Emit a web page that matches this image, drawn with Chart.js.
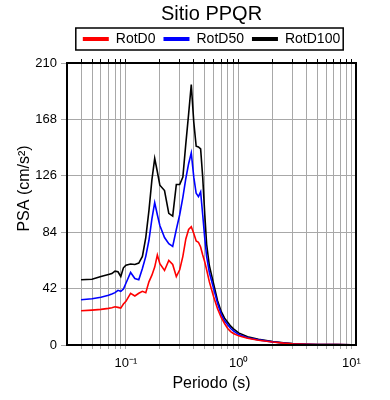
<!DOCTYPE html>
<html><head><meta charset="utf-8">
<script src="https://cdn.jsdelivr.net/npm/chart.js@4"></script>
<style>html,body{margin:0;padding:0;background:#fff}</style>
</head><body>
<canvas id="c" width="390" height="400"></canvas>
<script>
const periods = [0.04,0.05,0.06,0.07,0.075,0.08,0.085,0.09,0.095,0.1,
  0.11,0.12,0.13,0.14,0.15,0.16,0.17,0.18,0.19,0.2,
  0.22,0.24,0.26,0.28,0.3,0.32,0.34,0.36,0.38,0.4,
  0.42,0.44,0.46,0.48,0.5,0.52,0.55,0.6,0.65,0.7,
  0.75,0.8,0.85,0.9,1.0,1.2,1.5,2.0,2.5,3.0,
  4.0,5.0,6.0,7.5,10];
const rotD0 = [25.5,26,26.5,27.3,27.8,28.5,28,27.5,30.5,32.5,
  38.5,36.5,38.5,40,39,47,52,58,67,60.5,
  55.5,63,60,51,56,66,79,86,88,83,
  77.5,76.5,73,67,62,56,47,36,27,20.5,
  16,12.3,10,8.6,6.8,5.0,3.5,2.2,1.4,0.9,
  0.5,0.35,0.3,0.25,0.2];
const rotD50 = [33.7,34.5,35.5,37,38,39,40.7,40,41.7,46,
  54,49.5,48.6,57,66,78,94,106,97,89,
  80,75.5,73.5,86,97,110,124,135,143,125,
  113,110.5,114,97,80,66,54,42,31,23,
  18,15,12.3,10.5,7.8,5.4,3.8,2.3,1.5,0.9,
  0.55,0.38,0.3,0.25,0.2];
const rotD100 = [48.6,49,51,52.5,53.2,55,54.5,51,57.5,59.5,
  60.3,60,61,66,80,100,123,139,129,119,
  115,98,96,119.5,119.5,125,150,172,194,166,
  148,147.5,146,125,98,75,59,45.5,33,25,
  20,17,14,12,9,6.2,4.3,2.5,1.6,1.0,
  0.6,0.4,0.3,0.25,0.2];
const seriesNames = ['RotD0','RotD50','RotD100'];
const seriesColors = ['#ff0000','#0000ff','#000000'];
const xTickValues = [0.04,0.05,0.06,0.07,0.08,0.09,0.1,0.2,0.3,0.4,0.5,0.6,0.7,0.8,0.9,1,2,3,4,5,6,7,8,9,10];
const xTickLabels = {'0.1':'10⁻¹','1':'10⁰','10':'10¹'};
const yTickStep = 42, yMax = 210;

Chart.defaults.font.family = '"Liberation Sans", Arial, Helvetica, sans-serif';
Chart.defaults.color = '#000';

const allSeries = [rotD0, rotD50, rotD100];
const datasets = allSeries.map((vals, k) => ({
  label: seriesNames[k],
  data: periods.map((p, i) => ({x: p, y: vals[i]})),
  borderColor: seriesColors[k],
  backgroundColor: seriesColors[k],
  borderWidth: 1.6,
  pointRadius: 0,
  tension: 0,
  fill: false
}));

function setTicks(scale){ scale.ticks = xTickValues.map(v => ({value: v, major: Number.isInteger(Math.log10(v))})); }

const framePlugin = {
  id: 'frame',
  afterDraw(chart){
    const {ctx, chartArea: a} = chart;
    ctx.save();
    ctx.strokeStyle = '#000';
    ctx.lineWidth = 2;
    ctx.strokeRect(a.left, a.top, a.right - a.left, a.bottom - a.top);
    const hb = chart.legend && chart.legend.legendHitBoxes;
    if (hb && hb.length){
      const f = hb[0], l = hb[hb.length-1];
      const x0 = f.left - 7, x1 = l.left + l.width + 3;
      const y0 = f.top - 4, y1 = f.top + f.height + 4;
      ctx.lineWidth = 1.5;
      ctx.strokeRect(x0, y0, x1 - x0, y1 - y0);
    }
    ctx.restore();
  }
};

new Chart(document.getElementById('c'), {
  type: 'line',
  data: {datasets},
  plugins: [framePlugin],
  options: {
    responsive: false,
    animation: false,
    devicePixelRatio: 1,
    layout: {padding: {left: 0, right: 34, top: 0, bottom: 0}},
    plugins: {
      title: {display: true, text: 'Sitio PPQR', fullSize: false, color: '#000',
        font: {size: 20, weight: 'normal', lineHeight: 1.0}, padding: {top: 4, bottom: 0}},
      legend: {display: true, position: 'top', fullSize: false,
        labels: {boxWidth: 26, boxHeight: 4, padding: 8, color: '#000', font: {size: 14},
          generateLabels: (chart) => Chart.defaults.plugins.legend.labels.generateLabels(chart).map(l => Object.assign(l, {lineWidth: 0}))}},
      tooltip: {enabled: false}
    },
    scales: {
      x: {
        type: 'logarithmic', position: 'bottom', min: 0.03, max: 11,
        afterBuildTicks: setTicks,
        afterFit: s => { s.height = 55; },
        ticks: {autoSkip: false, maxRotation: 0, color: '#000', font: {size: 13}, padding: 7,
          callback: (v) => { const key = String(Math.round(v*1000)/1000); return xTickLabels[key] || ''; }},
        grid: {color: '#a8a8a8', lineWidth: 1, tickLength: 4},
        border: {display: false},
        title: {display: true, text: 'Periodo (s)', color: '#000', font: {size: 16}, padding: {top: 0, bottom: 7}}
      },
      x2: {
        type: 'logarithmic', position: 'top', min: 0.03, max: 11,
        afterBuildTicks: setTicks,
        afterFit: s => { s.height = 7; },
        ticks: {display: false, autoSkip: false},
        grid: {drawOnChartArea: false, color: '#000', tickLength: 4},
        border: {display: false}
      },
      y: {
        type: 'linear', position: 'left', min: 0, max: yMax,
        afterFit: s => { s.width = 67; },
        ticks: {stepSize: yTickStep, color: '#000', font: {size: 13}, padding: 4},
        grid: {color: '#a8a8a8', lineWidth: 1, tickLength: 6},
        border: {display: false},
        title: {display: true, text: '\u00a0\u00a0\u00a0\u00a0\u00a0\u00a0\u00a0PSA (cm/s²)', color: '#000', font: {size: 16}, padding: {top: 15, bottom: 0}}
      }
    }
  }
});
</script>
</body></html>
